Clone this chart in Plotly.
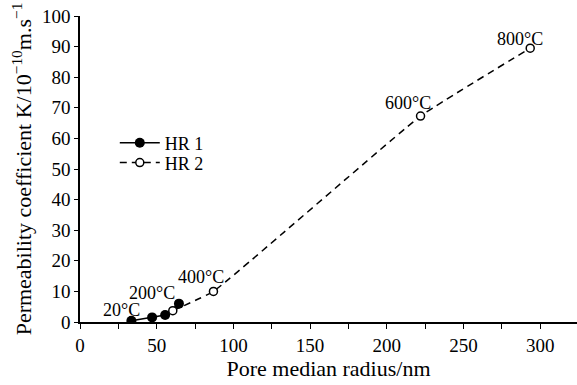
import plotly.graph_objects as go

hr1_x = [33.5, 47, 55.5, 64.5]
hr1_y = [0.4, 1.5, 2.3, 6.0]
hr2_x = [60.5, 87, 222, 293.5]
hr2_y = [3.7, 10.0, 67.3, 89.5]
labels = ["20°C", "200°C", "400°C", "600°C", "800°C"]
label_x = [27, 47, 79, 213.5, 287]
label_y = [3.9, 9.5, 14.8, 71.5, 92.5]

font = "Liberation Serif"

fig = go.Figure()
fig.add_trace(go.Scatter(x=hr1_x, y=hr1_y, mode="lines+markers", name="HR 1", legend="legend",
                         line=dict(color="black", width=1.5),
                         marker=dict(color="black", size=10, symbol="circle")))
fig.add_trace(go.Scatter(x=hr2_x, y=hr2_y, mode="lines+markers", name="HR 2", legend="legend2",
                         line=dict(color="black", width=1.5, dash="7px,5px", shape="spline", smoothing=0.3),
                         marker=dict(color="white", size=8, symbol="circle",
                                     line=dict(color="black", width=1.5))))

for t, x, y in zip(labels, label_x, label_y):
    fig.add_annotation(x=x, y=y, text=t, showarrow=False, xanchor="center", yanchor="middle",
                       font=dict(family=font, size=18, color="black"))

leg_common = dict(x=0.07, xanchor="left", yanchor="middle", bgcolor="rgba(0,0,0,0)",
                  font=dict(family=font, size=18), itemwidth=40)

fig.update_layout(
    width=577, height=385,
    margin=dict(l=80, r=0, t=16, b=63),
    paper_bgcolor="white", plot_bgcolor="white",
    font=dict(family=font, size=19, color="black"),
    showlegend=True,
    legend=dict(y=0.585, **leg_common),
    legend2=dict(y=0.520, **leg_common),
    xaxis=dict(range=[0, 324], dtick=50, tick0=0, showline=True, linecolor="black", linewidth=1.5,
               ticks="outside", ticklen=5, tickcolor="black", showgrid=False, zeroline=False,
               tickfont=dict(size=19),
               minor=dict(dtick=25, ticks="outside", ticklen=5, tickcolor="black"),
               title=dict(text="Pore median radius/nm", font=dict(size=22), standoff=6)),
    yaxis=dict(range=[0, 100], dtick=10, showline=True, linecolor="black", linewidth=1.5,
               ticks="outside", ticklen=4, tickcolor="black", showgrid=False, zeroline=False,
               tickfont=dict(size=19),
               title=dict(text="Permeability coefficient K/10<sup>−10</sup>m.s<sup>−1</sup>",
                          font=dict(size=22), standoff=4)),
)

fig.write_html("out.html")
